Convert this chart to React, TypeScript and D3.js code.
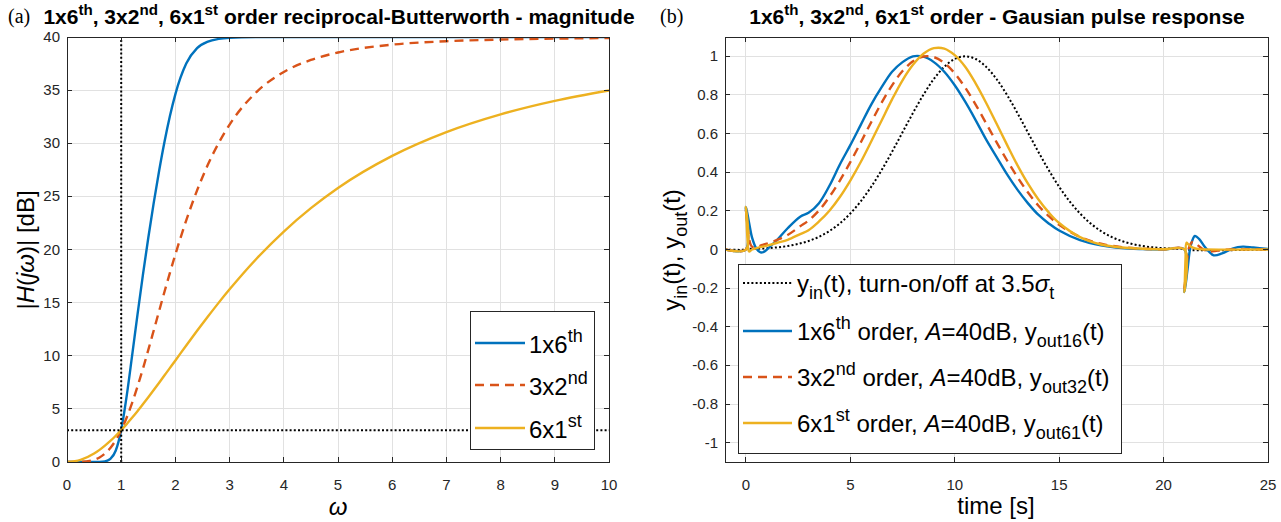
import React from 'react';
import * as d3 from 'd3';

// ---------- (a) magnitude data ----------
const omega = [0, 0.25, 0.5, 0.6, 0.7, 0.8, 0.9, 1.0, 1.1, 1.2, 1.3, 1.4, 1.5, 1.6, 1.7, 1.8, 1.9, 2.0, 2.2, 2.4, 2.6, 2.8, 3.0, 3.5, 4, 4.5, 5, 6, 7, 8, 9, 10];
const mag1x6 = [0, 0, 0.001, 0.009, 0.06, 0.29, 1.08, 3.01, 6.17, 9.96, 13.85, 17.59, 21.11, 24.39, 27.41, 30.16, 32.58, 34.63, 37.5, 38.95, 39.57, 39.82, 39.92, 39.99, 40, 40, 40, 40, 40, 40, 40, 40];
const mag3x2 = [0, 0.013, 0.21, 0.43, 0.79, 1.32, 2.05, 3.0, 4.17, 5.54, 7.09, 8.77, 10.55, 12.38, 14.22, 16.05, 17.83, 19.55, 22.74, 25.56, 27.99, 30.04, 31.76, 34.84, 36.71, 37.84, 38.54, 39.28, 39.6, 39.76, 39.85, 39.9];
const mag6x1 = [0, 0.2, 0.8, 1.14, 1.54, 1.98, 2.47, 3.01, 3.56, 4.16, 4.78, 5.43, 6.09, 6.77, 7.46, 8.16, 8.86, 9.56, 10.97, 12.35, 13.69, 15.0, 16.25, 19.15, 21.69, 23.89, 25.79, 28.81, 31.05, 32.72, 33.99, 34.97];
const xTicksA = [0, 1, 2, 3, 4, 5, 6, 7, 8, 9, 10];
const yTicksA = [0, 5, 10, 15, 20, 25, 30, 35, 40];
const refOmega = 1;
const refDb = 3;

// ---------- (b) pulse response data ----------
const tIn = [-1, 0, 0, 0.5, 1, 1.5, 2, 2.5, 3, 3.5, 4, 4.5, 5, 5.5, 6, 6.5, 7, 7.5, 8, 8.5, 9, 9.5, 10, 10.5, 11, 11.5, 12, 12.5, 13, 13.5, 14, 14.5, 15, 15.5, 16, 16.5, 17, 17.5, 18, 18.5, 19, 19.5, 20, 20.5, 21, 21, 25];
const yIn = [0, 0, 0.0022, 0.0039, 0.0066, 0.0111, 0.0181, 0.0286, 0.0439, 0.0657, 0.0956, 0.1353, 0.1863, 0.2494, 0.3247, 0.4111, 0.5063, 0.6065, 0.7066, 0.8007, 0.8825, 0.946, 0.9862, 1, 0.9862, 0.946, 0.8825, 0.8007, 0.7066, 0.6065, 0.5063, 0.4111, 0.3247, 0.2494, 0.1863, 0.1353, 0.0956, 0.0657, 0.0439, 0.0286, 0.0181, 0.0111, 0.0066, 0.0039, 0.0022, 0, 0];

const t16 = [-1, 0, 0, 0.15, 0.3, 0.5, 0.7, 0.9, 1.2, 1.5, 2, 2.6, 3, 3.5, 4, 4.5, 5, 5.5, 6, 6.5, 7, 7.5, 8, 8.5, 9, 9.5, 10, 10.5, 11, 11.5, 12, 12.5, 13, 13.5, 14, 14.5, 15, 16, 17, 18, 19, 20, 21, 21, 21.15, 21.3, 21.5, 21.7, 22, 22.4, 22.8, 23.3, 23.8, 24.3, 25];
const y16 = [0, 0, 0.22, 0.14, 0.06, 0.005, -0.015, -0.01, 0.02, 0.05, 0.11, 0.17, 0.19, 0.24, 0.33, 0.44, 0.54, 0.645, 0.75, 0.84, 0.92, 0.97, 1.0, 0.998, 0.97, 0.92, 0.85, 0.765, 0.67, 0.57, 0.48, 0.39, 0.31, 0.24, 0.18, 0.135, 0.098, 0.048, 0.021, 0.007, 0.002, 0.0, 0.0, -0.22, -0.1, 0.02, 0.07, 0.055, 0.01, -0.03, -0.02, 0.005, 0.015, 0.01, 0.003];

const t32 = [-1, 0, 0, 0.1, 0.25, 0.4, 0.7, 1.0, 1.5, 2, 2.6, 3, 3.5, 4, 4.5, 5, 5.5, 6, 6.5, 7, 7.5, 8, 8.5, 9, 9.5, 10, 10.5, 11, 11.5, 12, 12.5, 13, 13.5, 14, 14.5, 15, 16, 17, 18, 19, 20, 21, 21, 21.1, 21.25, 21.4, 21.6, 21.9, 22.2, 22.6, 23.2, 25];
const y32 = [0, 0, 0.2, 0.1, 0.02, 0.01, 0.02, 0.03, 0.05, 0.075, 0.12, 0.15, 0.202, 0.273, 0.357, 0.452, 0.554, 0.659, 0.76, 0.85, 0.924, 0.974, 0.999, 0.996, 0.966, 0.912, 0.838, 0.75, 0.654, 0.556, 0.462, 0.375, 0.296, 0.228, 0.173, 0.128, 0.065, 0.03, 0.012, 0.004, 0.001, 0.0, -0.2, -0.08, 0.02, 0.04, 0.025, 0.0, -0.01, -0.005, 0.0, 0.0];

const t61 = [-1, 0, 0, 0.08, 0.15, 0.3, 0.6, 1.0, 1.5, 2, 2.6, 3, 3.5, 4, 4.5, 5, 5.5, 6, 6.5, 7, 7.5, 8, 8.5, 9, 9.5, 10, 10.5, 11, 11.5, 12, 12.5, 13, 13.5, 14, 14.5, 15, 16, 17, 18, 19, 20, 21, 21, 21.05, 21.1, 21.2, 21.4, 21.7, 22, 25];
const y61 = [0, 0, 0.22, 0.05, -0.01, 0.0, 0.01, 0.02, 0.035, 0.05, 0.08, 0.1, 0.145, 0.201, 0.272, 0.357, 0.453, 0.559, 0.668, 0.777, 0.876, 0.956, 1.013, 1.042, 1.04, 1.006, 0.946, 0.86, 0.76, 0.652, 0.543, 0.437, 0.342, 0.26, 0.192, 0.137, 0.064, 0.026, 0.01, 0.004, 0.001, 0.0, -0.22, -0.05, 0.035, 0.025, 0.01, 0.002, 0, 0];

const xTicksB = [0, 5, 10, 15, 20, 25];
const yTicksB = [-1, -0.8, -0.6, -0.4, -0.2, 0, 0.2, 0.4, 0.6, 0.8, 1];

// ---------- style ----------
const BLUE = '#0072BD';
const RED = '#D95319';
const YEL = '#EDB120';
const AX = '#262626';
const GRID = '#e1e1e1';
const SANS = '"Liberation Sans", Arial, Helvetica, sans-serif';
const SERIF = '"Liberation Serif", "Times New Roman", serif';

type Seg = { t: string; sup?: boolean; sub?: boolean; it?: boolean };

function Rich(props: { x: number; y: number; fs: number; segs: Seg[]; anchor?: string; weight?: string; transform?: string; fill?: string; small?: number }) {
  const { x, y, fs, segs, anchor, weight, transform, fill } = props;
  const small = props.small || 0.75;
  let cur = 0;
  return (
    <text x={x} y={y} fontSize={fs} fontFamily={SANS} textAnchor={anchor || 'start'} fontWeight={weight} transform={transform} fill={fill || '#000'} style={{ whiteSpace: 'pre' }}>
      {segs.map((s, i) => {
        const target = s.sup ? -0.44 * fs : s.sub ? 0.3 * fs : 0;
        const dy = target - cur;
        cur = target;
        return (
          <tspan key={i} dy={dy} fontSize={s.sup || s.sub ? small * fs : fs} fontStyle={s.it ? 'italic' : undefined}>
            {s.t}
          </tspan>
        );
      })}
    </text>
  );
}

function Grid(props: { x: d3.ScaleLinear<number, number>; y: d3.ScaleLinear<number, number>; xt: number[]; yt: number[] }) {
  const { x, y, xt, yt } = props;
  const [x0, x1] = x.range();
  const [y0, y1] = y.range();
  return (
    <g>
      <rect x={x0} y={y1} width={x1 - x0} height={y0 - y1} fill="#fff" />
      <g stroke={GRID} strokeWidth={1} shapeRendering="crispEdges">
        {xt.map((v) => (
          <line key={'gx' + v} x1={x(v)} x2={x(v)} y1={y1} y2={y0} />
        ))}
        {yt.map((v) => (
          <line key={'gy' + v} x1={x0} x2={x1} y1={y(v)} y2={y(v)} />
        ))}
      </g>
    </g>
  );
}

function Box(props: { x: d3.ScaleLinear<number, number>; y: d3.ScaleLinear<number, number>; xt: number[]; yt: number[]; fmtY: (v: number) => string }) {
  const { x, y, xt, yt, fmtY } = props;
  const [x0, x1] = x.range();
  const [y0, y1] = y.range();
  const tl = 5;
  return (
    <g>
      <g stroke={AX} strokeWidth={1} shapeRendering="crispEdges" fill="none">
        <rect x={x0} y={y1} width={x1 - x0} height={y0 - y1} />
        {xt.map((v) => (
          <g key={'tx' + v}>
            <line x1={x(v)} x2={x(v)} y1={y0} y2={y0 - tl} />
            <line x1={x(v)} x2={x(v)} y1={y1} y2={y1 + tl} />
          </g>
        ))}
        {yt.map((v) => (
          <g key={'ty' + v}>
            <line x1={x0} x2={x0 + tl} y1={y(v)} y2={y(v)} />
            <line x1={x1} x2={x1 - tl} y1={y(v)} y2={y(v)} />
          </g>
        ))}
      </g>
      <g fontFamily={SANS} fontSize={15} fill={AX}>
        {xt.map((v) => (
          <text key={'lx' + v} x={x(v)} y={y0 + 28} textAnchor="middle">
            {String(v)}
          </text>
        ))}
        {yt.map((v) => (
          <text key={'ly' + v} x={x0 - 7} y={y(v) + 5} textAnchor="end">
            {fmtY(v)}
          </text>
        ))}
      </g>
    </g>
  );
}

export default function App() {
  const xA = d3.scaleLinear().domain([0, 10]).range([67, 609]);
  const yA = d3.scaleLinear().domain([0, 40]).range([462, 37]);
  const xB = d3.scaleLinear().domain([-1, 25]).range([725, 1268]);
  const yB = d3.scaleLinear().domain([-1.1, 1.1]).range([462, 37]);

  const lineA = (ys: number[]) =>
    d3
      .line<number>()
      .x((_, i) => xA(omega[i]))
      .y((d) => yA(d))
      .curve(d3.curveMonotoneX)(ys) || '';

  const lineB = (ts: number[], ys: number[]) =>
    d3
      .line<number>()
      .x((_, i) => xB(ts[i]))
      .y((d) => yB(d))
      .curve(d3.curveCatmullRom.alpha(0.5))(ys) || '';

  const fmtB = (v: number) => String(+v.toFixed(1));

  const titleSegs = (rest: string): Seg[] => [
    { t: '1x6' },
    { t: 'th', sup: true },
    { t: ', 3x2' },
    { t: 'nd', sup: true },
    { t: ', 6x1' },
    { t: 'st', sup: true },
    { t: rest },
  ];

  const dotted = { stroke: '#000', strokeWidth: 2, strokeDasharray: '2,2.2', fill: 'none' };
  const lw = 2.4;
  const LFS = 24;

  const legA = { x: 470, y: 311, w: 124, h: 138 };
  const legAItems = [
    { c: BLUE, dash: undefined as string | undefined, segs: [{ t: '1x6' }, { t: 'th', sup: true }] as Seg[] },
    { c: RED, dash: '9,6', segs: [{ t: '3x2' }, { t: 'nd', sup: true }] as Seg[] },
    { c: YEL, dash: undefined, segs: [{ t: '6x1' }, { t: 'st', sup: true }] as Seg[] },
  ];
  const legAy = [343, 385, 428];

  const legB = { x: 738, y: 264, w: 383, h: 189 };
  const legBy = [283, 331, 377, 423];
  const ordSegs = (a: string, s: string, n: string): Seg[] => [
    { t: a },
    { t: s, sup: true },
    { t: ' order, ' },
    { t: 'A', it: true },
    { t: '=40dB, y' },
    { t: 'out' + n, sub: true },
    { t: '(t)' },
  ];
  const legBItems = [
    { c: '#000', dash: '2,2.2', segs: [{ t: 'y' }, { t: 'in', sub: true }, { t: '(t), turn-on/off at 3.5' }, { t: 'σ', it: true }, { t: 't', sub: true }] as Seg[] },
    { c: BLUE, dash: undefined as string | undefined, segs: ordSegs('1x6', 'th', '16') },
    { c: RED, dash: '9,6', segs: ordSegs('3x2', 'nd', '32') },
    { c: YEL, dash: undefined, segs: ordSegs('6x1', 'st', '61') },
  ];

  return (
    <div style={{ position: 'absolute', left: 0, top: 0 }}>
      <svg width={1281} height={522} viewBox="0 0 1281 522" style={{ display: 'block', background: '#fff' }}>
        <defs>
          <clipPath id="clipA">
            <rect x={67} y={37} width={542} height={425} />
          </clipPath>
          <clipPath id="clipB">
            <rect x={725} y={37} width={543} height={425} />
          </clipPath>
        </defs>

        {/* ---------------- (a) ---------------- */}
        <Grid x={xA} y={yA} xt={xTicksA} yt={yTicksA} />
        <g clipPath="url(#clipA)" fill="none" strokeLinejoin="round">
          <path d={lineA(mag1x6)} stroke={BLUE} strokeWidth={lw} />
          <path d={lineA(mag3x2)} stroke={RED} strokeWidth={lw} strokeDasharray="9,6" />
          <path d={lineA(mag6x1)} stroke={YEL} strokeWidth={lw} />
          <line x1={xA(refOmega)} x2={xA(refOmega)} y1={yA(0)} y2={yA(40)} {...dotted} />
          <line x1={xA(0)} x2={xA(10)} y1={yA(refDb)} y2={yA(refDb)} {...dotted} />
        </g>
        <Box x={xA} y={yA} xt={xTicksA} yt={yTicksA} fmtY={(v) => String(v)} />

        <text x={8} y={23} fontFamily={SERIF} fontSize={20}>(a)</text>
        <Rich x={339} y={24} fs={21} weight="bold" anchor="middle" small={0.72} segs={titleSegs(' order reciprocal-Butterworth - magnitude')} />
        <Rich
          x={0}
          y={0}
          fs={LFS}
          anchor="middle"
          transform="translate(34,250) rotate(-90)"
          segs={[{ t: '|' }, { t: 'H', it: true }, { t: '(' }, { t: 'jω', it: true }, { t: ')| [dB]' }]}
        />
        <text x={338} y={515} fontFamily={SANS} fontSize={LFS} fontStyle="italic" textAnchor="middle">ω</text>

        <g>
          <rect x={legA.x} y={legA.y} width={legA.w} height={legA.h} fill="#fff" stroke={AX} strokeWidth={1} shapeRendering="crispEdges" />
          {legAItems.map((it, i) => (
            <g key={i}>
              <line x1={475} x2={525} y1={legAy[i]} y2={legAy[i]} stroke={it.c} strokeWidth={lw} strokeDasharray={it.dash} />
              <Rich x={529} y={legAy[i] + 10} fs={LFS} segs={it.segs} />
            </g>
          ))}
        </g>

        {/* ---------------- (b) ---------------- */}
        <Grid x={xB} y={yB} xt={xTicksB} yt={yTicksB} />
        <g clipPath="url(#clipB)" fill="none" strokeLinejoin="round">
          <path d={lineB(tIn, yIn)} {...dotted} />
          <path d={lineB(t16, y16)} stroke={BLUE} strokeWidth={lw} />
          <path d={lineB(t32, y32)} stroke={RED} strokeWidth={lw} strokeDasharray="9,6" />
          <path d={lineB(t61, y61)} stroke={YEL} strokeWidth={lw} />
        </g>
        <Box x={xB} y={yB} xt={xTicksB} yt={yTicksB} fmtY={fmtB} />

        <text x={660} y={23} fontFamily={SERIF} fontSize={20}>(b)</text>
        <Rich x={997} y={24} fs={21} weight="bold" anchor="middle" small={0.72} segs={titleSegs(' order - Gausian pulse response')} />
        <Rich
          x={0}
          y={0}
          fs={LFS}
          anchor="middle"
          transform="translate(680,250) rotate(-90)"
          segs={[{ t: 'y' }, { t: 'in', sub: true }, { t: '(t), y' }, { t: 'out', sub: true }, { t: '(t)' }]}
        />
        <text x={996} y={514} fontFamily={SANS} fontSize={LFS} textAnchor="middle">time [s]</text>

        <g>
          <rect x={legB.x} y={legB.y} width={legB.w} height={legB.h} fill="#fff" stroke={AX} strokeWidth={1} shapeRendering="crispEdges" />
          {legBItems.map((it, i) => (
            <g key={i}>
              <line x1={743} x2={792} y1={legBy[i]} y2={legBy[i]} stroke={it.c} strokeWidth={it.c === '#000' ? 2 : lw} strokeDasharray={it.dash} />
              <Rich x={797} y={legBy[i] + 9} fs={LFS} segs={it.segs} />
            </g>
          ))}
        </g>
      </svg>
    </div>
  );
}
